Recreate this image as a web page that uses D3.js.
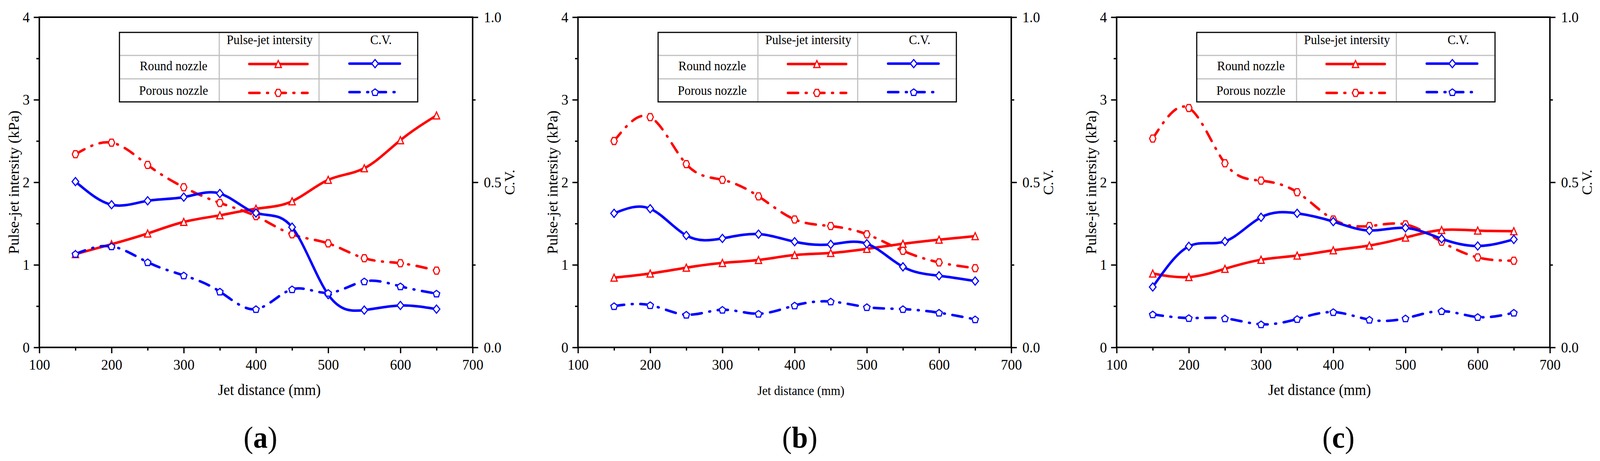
<!DOCTYPE html>
<html><head><meta charset="utf-8">
<script src="https://cdn.jsdelivr.net/npm/d3@7"></script>
<style>html,body{margin:0;padding:0;background:#fff;overflow:hidden;width:100%;height:100%}
#chart{display:block;width:100vw;height:100vh}</style>
</head><body>
<svg id="chart" viewBox="0 0 4313 1181" preserveAspectRatio="none"></svg>
<script>
// ---------- data ----------
const distances = [150, 200, 250, 300, 350, 400, 450, 500, 550, 600, 650];
const xTickValues = [100, 200, 300, 400, 500, 600, 700];
const xMinorTickValues = [150, 250, 350, 450, 550, 650];
const yLeftTickValues = [0, 1, 2, 3, 4];
const yLeftMinorTickValues = [0.5, 1.5, 2.5, 3.5];
const yRightTickValues = [0.0, 0.5, 1.0];
const yRightMinorTickValues = [0.25, 0.75];
const legendHeaders = ["Pulse-jet intersity", "C.V."];
const legendRows = ["Round nozzle", "Porous nozzle"];
const panelLabels = ["a", "b", "c"];
const xTitle = "Jet distance (mm)";
const yLeftTitle = "Pulse-jet intersity (kPa)";
const yRightTitle = "C.V.";

// panel (a)
const roundIntensityA = [1.13, 1.25, 1.38, 1.52, 1.60, 1.68, 1.77, 2.03, 2.17, 2.51, 2.81];
const porousIntensityA = [2.34, 2.48, 2.21, 1.94, 1.75, 1.59, 1.37, 1.26, 1.08, 1.02, 0.93];
const roundCVA = [0.502, 0.432, 0.444, 0.455, 0.466, 0.407, 0.364, 0.160, 0.113, 0.127, 0.116];
const porousCVA = [0.283, 0.306, 0.258, 0.218, 0.169, 0.116, 0.176, 0.165, 0.200, 0.185, 0.163];
// panel (b)
const roundIntensityB = [0.845, 0.895, 0.966, 1.023, 1.059, 1.119, 1.144, 1.194, 1.255, 1.305, 1.348];
const porousIntensityB = [2.50, 2.79, 2.22, 2.03, 1.83, 1.55, 1.47, 1.37, 1.17, 1.03, 0.96];
const roundCVB = [0.406, 0.420, 0.339, 0.330, 0.343, 0.320, 0.312, 0.314, 0.244, 0.217, 0.201];
const porousCVB = [0.125, 0.128, 0.099, 0.114, 0.102, 0.127, 0.139, 0.122, 0.116, 0.105, 0.085];
// panel (c)
const roundIntensityC = [0.895, 0.852, 0.952, 1.062, 1.112, 1.176, 1.234, 1.330, 1.422, 1.415, 1.408];
const porousIntensityC = [2.53, 2.90, 2.23, 2.02, 1.88, 1.55, 1.47, 1.49, 1.28, 1.09, 1.05];
const roundCVC = [0.183, 0.306, 0.321, 0.394, 0.406, 0.381, 0.354, 0.362, 0.329, 0.307, 0.327];
const porousCVC = [0.100, 0.089, 0.088, 0.070, 0.086, 0.107, 0.084, 0.088, 0.110, 0.092, 0.105];

const panelsData = [
  {label: panelLabels[0], ri: roundIntensityA, pi: porousIntensityA, rc: roundCVA, pc: porousCVA},
  {label: panelLabels[1], ri: roundIntensityB, pi: porousIntensityB, rc: roundCVB, pc: porousCVB},
  {label: panelLabels[2], ri: roundIntensityC, pi: porousIntensityC, rc: roundCVC, pc: porousCVC}
];

// ---------- layout / style ----------
const FONT = "'Liberation Serif', 'Times New Roman', serif";
const RED = "#ff0000", BLUE = "#0000ff";
const panelLeft = [106, 1558, 3010];
const plotW = 1168, plotTop = 44, plotBottom = 890;
const xTitleOffset = [620, 601, 547];
const xTitleSize = [39, 33, 39];
const labelOffset = [596, 598, 598];
const DASHDOT = "27.5,20.5,2.5,20.5";
const LW = 6.5;

const svg = d3.select("#chart");
svg.append("rect").attr("width", 4313).attr("height", 1181).attr("fill", "#fff");

// marker path generators (centered at 0,0)
function markerPath(type) {
  if (type === "triangle") { const w = 8.5, h = 9; return `M0,${-h}L${w},${h}L${-w},${h}Z`; }
  if (type === "diamond") { const w = 9, h = 10.5; return `M0,${-h}L${w},0L0,${h}L${-w},0Z`; }
  if (type === "hexagon") { const w = 8.5, h = 9;
    return `M${-w},0L${-w/2},${-h}L${w/2},${-h}L${w},0L${w/2},${h}L${-w/2},${h}Z`; }
  if (type === "pentagon") { const r = 9.2; let p = [];
    for (let i = 0; i < 5; i++) { const a = -Math.PI/2 + i*2*Math.PI/5; p.push([r*Math.cos(a), r*Math.sin(a) + 1]); }
    return "M" + p.map(d => d.join(",")).join("L") + "Z"; }
}

panelsData.forEach((pd, i) => {
  const L = panelLeft[i];
  const g = svg.append("g");
  const x = d3.scaleLinear().domain([100, 700]).range([L, L + plotW]);
  const yL = d3.scaleLinear().domain([0, 4]).range([plotBottom, plotTop]);
  const yR = d3.scaleLinear().domain([0, 1]).range([plotBottom, plotTop]);

  function styleAxis(sel) {
    sel.select(".domain").remove();
    sel.selectAll("line").attr("stroke", "#000").attr("stroke-width", 3.5);
    sel.selectAll("text").attr("font-family", FONT).attr("font-size", 38).attr("fill", "#000");
  }
  g.append("g").attr("transform", `translate(0,${plotBottom})`)
    .call(d3.axisBottom(x).tickValues(xMinorTickValues).tickSize(8).tickFormat("")).call(styleAxis);
  g.append("g").attr("transform", `translate(0,${plotBottom})`)
    .call(d3.axisBottom(x).tickValues(xTickValues).tickSize(15).tickPadding(15).tickFormat(d3.format("d"))).call(styleAxis);
  g.append("g").attr("transform", `translate(${L},0)`)
    .call(d3.axisLeft(yL).tickValues(yLeftMinorTickValues).tickSize(8).tickFormat("")).call(styleAxis);
  g.append("g").attr("transform", `translate(${L},0)`)
    .call(d3.axisLeft(yL).tickValues(yLeftTickValues).tickSize(15).tickPadding(11).tickFormat(d3.format("d"))).call(styleAxis);
  g.append("g").attr("transform", `translate(${L + plotW},0)`)
    .call(d3.axisRight(yR).tickValues(yRightMinorTickValues).tickSize(8).tickFormat("")).call(styleAxis);
  g.append("g").attr("transform", `translate(${L + plotW},0)`)
    .call(d3.axisRight(yR).tickValues(yRightTickValues).tickSize(15).tickPadding(15).tickFormat(d3.format(".1f"))).call(styleAxis);

  g.append("rect").attr("x", L).attr("y", plotTop).attr("width", plotW).attr("height", plotBottom - plotTop)
    .attr("fill", "none").attr("stroke", "#000").attr("stroke-width", 4);

  const series = [
    {vals: pd.ri, y: yL, color: RED, dash: null, marker: "triangle"},
    {vals: pd.pi, y: yL, color: RED, dash: DASHDOT, marker: "hexagon"},
    {vals: pd.rc, y: yR, color: BLUE, dash: null, marker: "diamond"},
    {vals: pd.pc, y: yR, color: BLUE, dash: DASHDOT, marker: "pentagon"}
  ];
  series.forEach(s => {
    const pts = distances.map((d, k) => [d, s.vals[k]]);
    const line = d3.line().x(d => x(d[0])).y(d => s.y(d[1])).curve(d3.curveNatural);
    g.append("path").attr("d", line(pts)).attr("fill", "none").attr("stroke", s.color)
      .attr("stroke-width", LW).attr("stroke-linecap", "round").attr("stroke-linejoin", "round")
      .attr("stroke-dasharray", s.dash);
    g.selectAll(null).data(pts).enter().append("path")
      .attr("d", markerPath(s.marker))
      .attr("transform", d => `translate(${x(d[0])},${s.y(d[1])})`)
      .attr("fill", "#fff").attr("stroke", s.color).attr("stroke-width", 3);
  });

  // legend table
  const lx = L + 216, lw = 804, ly = 83, rowH = [59, 60, 59];
  const colX = [lx, L + 485, L + 754, lx + lw];
  const rowY = [ly, ly + rowH[0], ly + rowH[0] + rowH[1], ly + rowH[0] + rowH[1] + rowH[2]];
  const lg = g.append("g");
  lg.append("rect").attr("x", lx).attr("y", ly).attr("width", lw).attr("height", rowY[3] - ly).attr("fill", "#fff");
  [rowY[1], rowY[2]].forEach(yy => lg.append("line").attr("x1", lx).attr("x2", lx + lw).attr("y1", yy).attr("y2", yy)
    .attr("stroke", "#c0c0c0").attr("stroke-width", 3));
  [colX[1], colX[2]].forEach(xx => lg.append("line").attr("x1", xx).attr("x2", xx).attr("y1", ly).attr("y2", rowY[3])
    .attr("stroke", "#c0c0c0").attr("stroke-width", 3));
  lg.append("rect").attr("x", lx).attr("y", ly).attr("width", lw).attr("height", rowY[3] - ly)
    .attr("fill", "none").attr("stroke", "#000").attr("stroke-width", 3);
  const headerX = [L + 621, L + 921];
  legendHeaders.forEach((t, k) => lg.append("text").attr("x", headerX[k]).attr("y", 113)
    .attr("text-anchor", "middle").attr("font-family", FONT).attr("font-size", 33).text(t));
  const rowBase = [180, 243];
  legendRows.forEach((t, k) => lg.append("text").attr("x", L + 362).attr("y", rowBase[k])
    .attr("text-anchor", "middle").attr("font-family", FONT).attr("font-size", 33).text(t));
  const legItems = [
    {x1: L + 566, x2: L + 723, mx: L + 644, y: 164, color: RED, dash: null, marker: "triangle"},
    {x1: L + 836, x2: L + 972, mx: L + 905, y: 163, color: BLUE, dash: null, marker: "diamond"},
    {x1: L + 566, x2: L + 723, mx: L + 644, y: 238, color: RED, dash: DASHDOT, marker: "hexagon"},
    {x1: L + 836, x2: L + 965, mx: L + 905, y: 236, color: BLUE, dash: DASHDOT, marker: "pentagon"}
  ];
  legItems.forEach(it => {
    lg.append("line").attr("x1", it.x1).attr("x2", it.x2).attr("y1", it.y).attr("y2", it.y)
      .attr("stroke", it.color).attr("stroke-width", LW).attr("stroke-linecap", "round").attr("stroke-dasharray", it.dash);
    lg.append("path").attr("d", markerPath(it.marker)).attr("transform", `translate(${it.mx},${it.y})`)
      .attr("fill", "#fff").attr("stroke", it.color).attr("stroke-width", 3);
  });

  g.append("text").attr("x", L + xTitleOffset[i]).attr("y", 1012).attr("text-anchor", "middle")
    .attr("font-family", FONT).attr("font-size", xTitleSize[i]).text(xTitle);
  g.append("text").attr("transform", `translate(${L - 69},${(plotTop + plotBottom) / 2}) rotate(-90)`)
    .attr("text-anchor", "middle").attr("dy", "0.35em").attr("font-family", FONT).attr("font-size", 39).text(yLeftTitle);
  g.append("text").attr("transform", `translate(${L + plotW + 100},${(plotTop + plotBottom) / 2}) rotate(-90)`)
    .attr("text-anchor", "middle").attr("dy", "0.35em").attr("font-family", FONT).attr("font-size", 37).text(yRightTitle);

  const pl = g.append("text").attr("x", L + labelOffset[i]).attr("y", 1147).attr("text-anchor", "middle")
    .attr("font-family", FONT).attr("font-size", 78);
  pl.append("tspan").text("(");
  pl.append("tspan").attr("font-weight", "bold").text(pd.label);
  pl.append("tspan").text(")");
});
</script>
</body></html>
